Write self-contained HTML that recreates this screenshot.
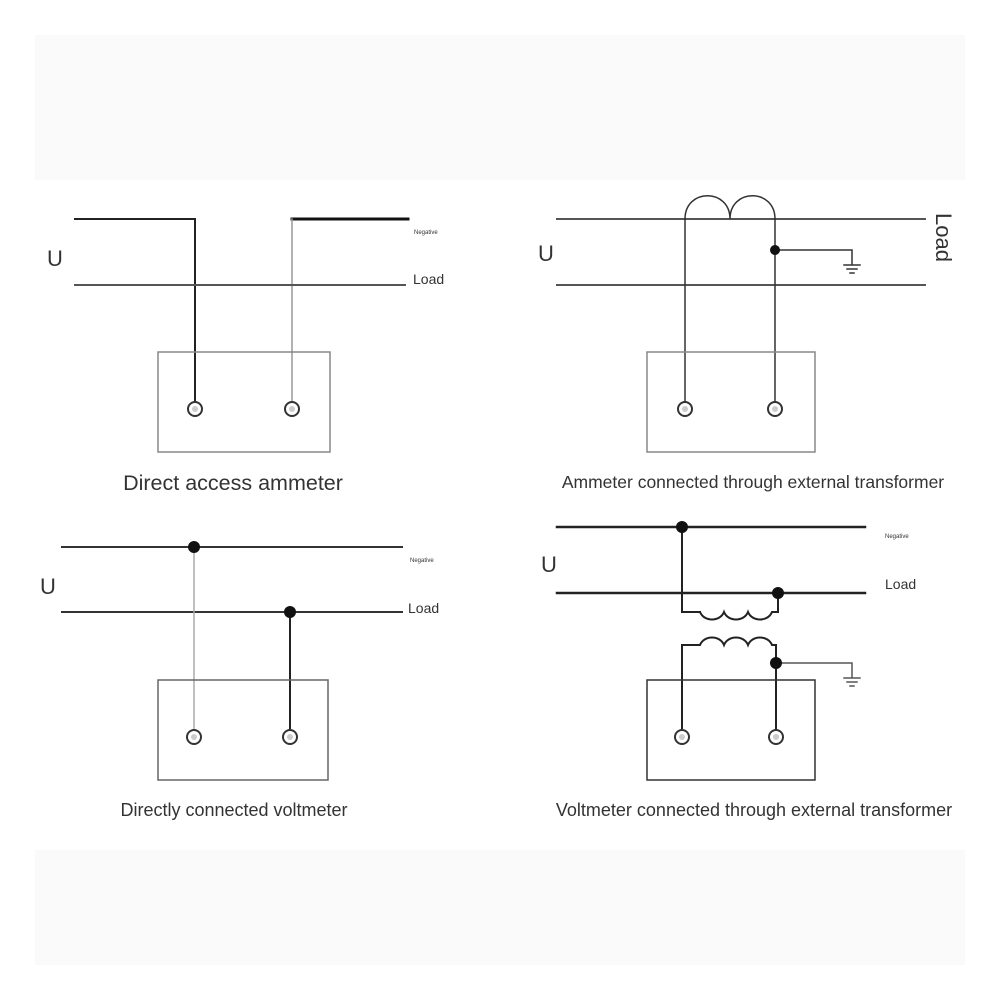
<!DOCTYPE html>
<html><head><style>
html,body{margin:0;padding:0;background:#fff;}
svg{display:block;}
text{font-family:"Liberation Sans",sans-serif;fill:#333;}
</style></head><body>
<svg width="1000" height="1000" viewBox="0 0 1000 1000">
<rect x="35" y="35" width="930" height="145" fill="#fafafa"/>
<rect x="35" y="850" width="930" height="115" fill="#fafafa"/>
<g fill="none" stroke-linecap="square">
<path d="M75 219H195V409" stroke="#222" stroke-width="2"/>
<path d="M292 219H408" stroke="#111" stroke-width="3"/>
<path d="M292 219V409" stroke="#999" stroke-width="1.5"/>
<path d="M75 285H405" stroke="#555" stroke-width="2"/>
<rect x="158" y="352" width="172" height="100" stroke="#888" stroke-width="1.5"/>
<path d="M557 219H925M557 285H925" stroke="#555" stroke-width="2"/>
<path d="M685 219V409M775 219V409" stroke="#333" stroke-width="1.5"/>
<path d="M685 219C685 188 730 188 730 219C730 188 775 188 775 219" stroke="#333" stroke-width="1.5"/>
<path d="M775 250H852V265M844 265H860M847 269H857M850 273H854" stroke="#333" stroke-width="1.5"/>
<rect x="647" y="352" width="168" height="100" stroke="#888" stroke-width="1.5"/>
<path d="M62 547H402M62 612H402" stroke="#333" stroke-width="2"/>
<path d="M194 547V737" stroke="#aaa" stroke-width="1.5"/>
<path d="M290 612V737" stroke="#222" stroke-width="2"/>
<rect x="158" y="680" width="170" height="100" stroke="#666" stroke-width="1.5"/>
<path d="M557 527H865M557 593H865" stroke="#222" stroke-width="2.5"/>
<path d="M682 527V612H700" stroke="#222" stroke-width="2"/>
<path d="M700 612c4 10 20 10 24 0c4 10 20 10 24 0c4 10 20 10 24 0H778V593" stroke="#222" stroke-width="2"/>
<path d="M682 737V645H700c4-10 20-10 24 0c4-10 20-10 24 0c4-10 20-10 24 0H776V737" stroke="#222" stroke-width="2"/>
<path d="M776 663H852V678M844 678H860M847 682H857M850 686H854" stroke="#555" stroke-width="1.5"/>
<rect x="647" y="680" width="168" height="100" stroke="#333" stroke-width="1.5"/>
</g>
<g fill="#fff" stroke="#333" stroke-width="2">
<circle cx="195" cy="409" r="7"/><circle cx="292" cy="409" r="7"/>
<circle cx="685" cy="409" r="7"/><circle cx="775" cy="409" r="7"/>
<circle cx="194" cy="737" r="7"/><circle cx="290" cy="737" r="7"/>
<circle cx="682" cy="737" r="7"/><circle cx="776" cy="737" r="7"/>
</g>
<g fill="#ccc"><circle cx="195" cy="409" r="3"/><circle cx="292" cy="409" r="3"/><circle cx="685" cy="409" r="3"/><circle cx="775" cy="409" r="3"/><circle cx="194" cy="737" r="3"/><circle cx="290" cy="737" r="3"/><circle cx="682" cy="737" r="3"/><circle cx="776" cy="737" r="3"/></g>
<g fill="#111">
<circle cx="775" cy="250" r="5"/>
<circle cx="194" cy="547" r="6"/><circle cx="290" cy="612" r="6"/>
<circle cx="682" cy="527" r="6"/><circle cx="778" cy="593" r="6"/><circle cx="776" cy="663" r="6"/>
</g>
<text x="47" y="266" font-size="22">U</text>
<text x="414" y="234" font-size="6">Negative</text>
<text x="413" y="284" font-size="14">Load</text>
<text x="538" y="261" font-size="22">U</text>
<text transform="translate(936,213) rotate(90)" font-size="22">Load</text>
<text x="40" y="594" font-size="22">U</text>
<text x="410" y="562" font-size="6">Negative</text>
<text x="408" y="613" font-size="14">Load</text>
<text x="541" y="572" font-size="22">U</text>
<text x="885" y="538" font-size="6">Negative</text>
<text x="885" y="589" font-size="14">Load</text>
<text x="233" y="490" font-size="21.5" text-anchor="middle">Direct access ammeter</text>
<text x="753" y="488" font-size="17.5" text-anchor="middle">Ammeter connected through external transformer</text>
<text x="234" y="816" font-size="18" text-anchor="middle">Directly connected voltmeter</text>
<text x="754" y="816" font-size="18" text-anchor="middle">Voltmeter connected through external transformer</text>
</svg>
</body></html>
